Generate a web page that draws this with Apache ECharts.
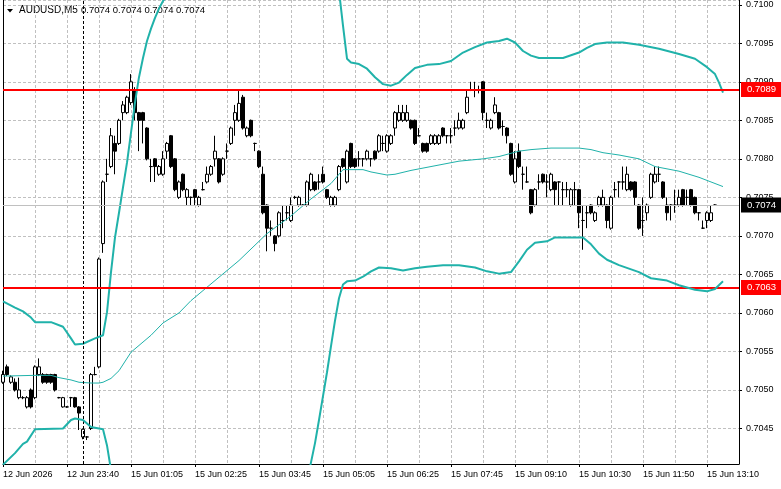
<!DOCTYPE html>
<html>
<head>
<meta charset="utf-8">
<title>AUDUSD,M5</title>
<script src="https://cdn.jsdelivr.net/npm/echarts@6/dist/echarts.min.js"></script>
<style>
  html, body { margin: 0; padding: 0; background: #fff; }
  #chart { width: 781px; height: 489px; }
</style>
</head>
<body>
<div id="chart"></div>
<script>
// tick labels, one every 16 bars
const tickLabels = ['12 Jun 2026', '12 Jun 23:40', '15 Jun 01:05', '15 Jun 02:25', '15 Jun 03:45',
  '15 Jun 05:05', '15 Jun 06:25', '15 Jun 07:45', '15 Jun 09:10', '15 Jun 10:30', '15 Jun 11:50', '15 Jun 13:10'];

// bars: [open, close, low, high]
const ohlc = [
  [0.70510, 0.70520, 0.70508, 0.70525], [0.70530, 0.70520, 0.70518, 0.70533], [0.70510, 0.70517, 0.70508, 0.70519],
  [0.70510, 0.70500, 0.70498, 0.70515], [0.70490, 0.70500, 0.70488, 0.70516], [0.70490, 0.70490, 0.70488, 0.70492],
  [0.70478, 0.70490, 0.70476, 0.70492], [0.70500, 0.70478, 0.70476, 0.70502], [0.70490, 0.70530, 0.70488, 0.70532],
  [0.70520, 0.70530, 0.70518, 0.70541], [0.70520, 0.70510, 0.70508, 0.70522], [0.70520, 0.70510, 0.70508, 0.70521],
  [0.70520, 0.70510, 0.70508, 0.70521], [0.70520, 0.70500, 0.70498, 0.70521], [0.70490, 0.70490, 0.70489, 0.70491],
  [0.70478, 0.70490, 0.70477, 0.70491], [0.70478, 0.70478, 0.70477, 0.70479], [0.70490, 0.70490, 0.70478, 0.70491],
  [0.70490, 0.70478, 0.70477, 0.70491], [0.70478, 0.70470, 0.70448, 0.70479], [0.70439, 0.70449, 0.70436, 0.70450],
  [0.70439, 0.70439, 0.70435, 0.70440], [0.70450, 0.70520, 0.70448, 0.70522], [0.70520, 0.70520, 0.70519, 0.70530],
  [0.70530, 0.70670, 0.70528, 0.70672], [0.70690, 0.70770, 0.70678, 0.70772], [0.70780, 0.70780, 0.70770, 0.70800],
  [0.70790, 0.70830, 0.70788, 0.70840], [0.70820, 0.70810, 0.70780, 0.70830], [0.70820, 0.70850, 0.70818, 0.70852],
  [0.70860, 0.70870, 0.70850, 0.70875], [0.70860, 0.70880, 0.70858, 0.70882], [0.70873, 0.70900, 0.70870, 0.70910],
  [0.70890, 0.70860, 0.70850, 0.70893], [0.70860, 0.70850, 0.70810, 0.70861], [0.70860, 0.70850, 0.70820, 0.70861],
  [0.70840, 0.70800, 0.70798, 0.70841], [0.70790, 0.70790, 0.70770, 0.70800], [0.70800, 0.70790, 0.70770, 0.70801],
  [0.70780, 0.70790, 0.70778, 0.70792], [0.70780, 0.70800, 0.70778, 0.70810], [0.70810, 0.70820, 0.70800, 0.70822],
  [0.70830, 0.70790, 0.70788, 0.70831], [0.70800, 0.70760, 0.70758, 0.70801], [0.70750, 0.70770, 0.70748, 0.70772],
  [0.70780, 0.70760, 0.70758, 0.70781], [0.70750, 0.70760, 0.70740, 0.70762], [0.70750, 0.70750, 0.70740, 0.70751],
  [0.70760, 0.70750, 0.70740, 0.70761], [0.70740, 0.70750, 0.70738, 0.70752], [0.70760, 0.70760, 0.70759, 0.70770],
  [0.70770, 0.70780, 0.70768, 0.70790], [0.70780, 0.70790, 0.70778, 0.70792], [0.70800, 0.70810, 0.70790, 0.70830],
  [0.70800, 0.70770, 0.70768, 0.70801], [0.70780, 0.70800, 0.70778, 0.70802], [0.70810, 0.70810, 0.70800, 0.70820],
  [0.70820, 0.70840, 0.70818, 0.70842], [0.70850, 0.70860, 0.70830, 0.70870], [0.70850, 0.70872, 0.70848, 0.70888],
  [0.70880, 0.70840, 0.70838, 0.70883], [0.70830, 0.70840, 0.70828, 0.70842], [0.70850, 0.70830, 0.70828, 0.70851],
  [0.70820, 0.70820, 0.70810, 0.70821], [0.70810, 0.70790, 0.70788, 0.70811], [0.70780, 0.70730, 0.70728, 0.70790],
  [0.70740, 0.70710, 0.70680, 0.70741], [0.70710, 0.70710, 0.70700, 0.70720], [0.70700, 0.70690, 0.70680, 0.70701],
  [0.70700, 0.70730, 0.70698, 0.70732], [0.70720, 0.70720, 0.70710, 0.70740], [0.70730, 0.70730, 0.70720, 0.70740],
  [0.70720, 0.70740, 0.70718, 0.70750], [0.70750, 0.70750, 0.70748, 0.70752], [0.70740, 0.70750, 0.70738, 0.70752],
  [0.70740, 0.70740, 0.70739, 0.70741], [0.70740, 0.70770, 0.70738, 0.70772], [0.70760, 0.70780, 0.70758, 0.70782],
  [0.70770, 0.70760, 0.70758, 0.70771], [0.70770, 0.70770, 0.70760, 0.70780], [0.70780, 0.70770, 0.70768, 0.70790],
  [0.70760, 0.70750, 0.70748, 0.70761], [0.70740, 0.70750, 0.70738, 0.70752], [0.70740, 0.70750, 0.70738, 0.70752],
  [0.70760, 0.70790, 0.70758, 0.70792], [0.70800, 0.70790, 0.70788, 0.70801], [0.70770, 0.70810, 0.70768, 0.70812],
  [0.70820, 0.70790, 0.70788, 0.70821], [0.70800, 0.70790, 0.70788, 0.70801], [0.70800, 0.70800, 0.70790, 0.70810],
  [0.70800, 0.70800, 0.70790, 0.70801], [0.70800, 0.70810, 0.70798, 0.70812], [0.70800, 0.70800, 0.70790, 0.70801],
  [0.70810, 0.70800, 0.70798, 0.70811], [0.70810, 0.70830, 0.70808, 0.70832], [0.70820, 0.70820, 0.70810, 0.70830],
  [0.70810, 0.70830, 0.70808, 0.70832], [0.70820, 0.70830, 0.70818, 0.70832], [0.70840, 0.70860, 0.70830, 0.70862],
  [0.70850, 0.70860, 0.70848, 0.70870], [0.70850, 0.70860, 0.70848, 0.70870], [0.70850, 0.70860, 0.70848, 0.70870],
  [0.70850, 0.70840, 0.70838, 0.70851], [0.70850, 0.70820, 0.70818, 0.70851], [0.70830, 0.70830, 0.70829, 0.70840],
  [0.70820, 0.70810, 0.70808, 0.70821], [0.70820, 0.70810, 0.70808, 0.70821], [0.70820, 0.70830, 0.70818, 0.70832],
  [0.70820, 0.70830, 0.70818, 0.70832], [0.70820, 0.70830, 0.70818, 0.70832], [0.70840, 0.70830, 0.70828, 0.70841],
  [0.70830, 0.70830, 0.70820, 0.70831], [0.70830, 0.70830, 0.70820, 0.70840], [0.70840, 0.70840, 0.70830, 0.70850],
  [0.70840, 0.70850, 0.70838, 0.70860], [0.70840, 0.70850, 0.70838, 0.70852], [0.70860, 0.70880, 0.70858, 0.70890],
  [0.70890, 0.70890, 0.70888, 0.70900], [0.70890, 0.70890, 0.70880, 0.70900], [0.70890, 0.70890, 0.70885, 0.70895],
  [0.70900, 0.70860, 0.70850, 0.70901], [0.70850, 0.70850, 0.70840, 0.70860], [0.70840, 0.70850, 0.70838, 0.70852],
  [0.70860, 0.70870, 0.70858, 0.70880], [0.70860, 0.70840, 0.70838, 0.70861], [0.70842, 0.70842, 0.70830, 0.70850],
  [0.70840, 0.70830, 0.70820, 0.70841], [0.70820, 0.70780, 0.70778, 0.70821], [0.70770, 0.70800, 0.70768, 0.70810],
  [0.70810, 0.70790, 0.70788, 0.70820], [0.70780, 0.70780, 0.70760, 0.70790], [0.70770, 0.70770, 0.70769, 0.70790],
  [0.70760, 0.70730, 0.70728, 0.70761], [0.70740, 0.70760, 0.70738, 0.70762], [0.70770, 0.70770, 0.70760, 0.70780],
  [0.70780, 0.70770, 0.70768, 0.70781], [0.70770, 0.70770, 0.70750, 0.70780], [0.70760, 0.70780, 0.70758, 0.70782],
  [0.70770, 0.70760, 0.70740, 0.70771], [0.70770, 0.70770, 0.70740, 0.70771], [0.70760, 0.70760, 0.70740, 0.70770],
  [0.70760, 0.70760, 0.70750, 0.70770], [0.70740, 0.70760, 0.70738, 0.70762], [0.70760, 0.70760, 0.70740, 0.70770],
  [0.70760, 0.70730, 0.70710, 0.70761], [0.70720, 0.70720, 0.70682, 0.70740], [0.70730, 0.70730, 0.70710, 0.70740],
  [0.70740, 0.70730, 0.70728, 0.70741], [0.70720, 0.70730, 0.70718, 0.70732], [0.70740, 0.70750, 0.70738, 0.70752],
  [0.70740, 0.70750, 0.70738, 0.70760], [0.70740, 0.70720, 0.70710, 0.70741], [0.70710, 0.70750, 0.70708, 0.70752],
  [0.70760, 0.70760, 0.70750, 0.70770], [0.70770, 0.70770, 0.70750, 0.70771], [0.70770, 0.70770, 0.70760, 0.70790],
  [0.70760, 0.70780, 0.70758, 0.70790], [0.70770, 0.70760, 0.70758, 0.70771], [0.70770, 0.70750, 0.70740, 0.70771],
  [0.70740, 0.70710, 0.70708, 0.70741], [0.70720, 0.70720, 0.70700, 0.70750], [0.70730, 0.70740, 0.70720, 0.70742],
  [0.70750, 0.70780, 0.70748, 0.70782], [0.70770, 0.70780, 0.70768, 0.70790], [0.70780, 0.70780, 0.70770, 0.70790],
  [0.70770, 0.70750, 0.70748, 0.70771], [0.70740, 0.70730, 0.70720, 0.70750], [0.70740, 0.70740, 0.70720, 0.70741],
  [0.70740, 0.70740, 0.70730, 0.70760], [0.70740, 0.70750, 0.70738, 0.70760], [0.70760, 0.70740, 0.70738, 0.70761],
  [0.70750, 0.70750, 0.70740, 0.70760], [0.70760, 0.70740, 0.70738, 0.70761], [0.70750, 0.70730, 0.70728, 0.70751],
  [0.70730, 0.70730, 0.70720, 0.70731], [0.70710, 0.70710, 0.70709, 0.70720], [0.70720, 0.70730, 0.70710, 0.70732],
  [0.70720, 0.70730, 0.70718, 0.70740], [0.70740, 0.70740, 0.70739, 0.70741]
];

// Bollinger bands: [bar index, value]
const upperBand = [[0, 0.70615], [3, 0.70607], [5, 0.70602], [7, 0.70594], [8, 0.70588], [12, 0.70588], [15, 0.70582],
  [17, 0.70567], [18, 0.70559], [20, 0.70560], [23, 0.70567], [25, 0.70571], [26, 0.70601], [27, 0.70653], [28, 0.70698],
  [29, 0.70730], [30, 0.70763], [31, 0.70795], [32, 0.70834], [33, 0.70873], [34, 0.70906], [35, 0.70931], [36, 0.70953],
  [37, 0.70969], [38, 0.70983], [39, 0.70995], [40, 0.71005], [44, 0.71030], [50, 0.71060], [60, 0.71080], [70, 0.71080],
  [78, 0.71060], [82, 0.71035], [84, 0.71018], [85, 0.70973], [86, 0.70930], [87, 0.70925], [89, 0.70923], [91, 0.70917],
  [93, 0.70906], [95, 0.70897], [97, 0.70895], [99, 0.70899], [101, 0.70909], [103, 0.70918], [106, 0.70922], [109, 0.70923],
  [112, 0.70927], [115, 0.70938], [118, 0.70945], [121, 0.70951], [124, 0.70953], [126, 0.70956], [128, 0.70951],
  [130, 0.70940], [132, 0.70934], [134, 0.70931], [140, 0.70931], [144, 0.70938], [146, 0.70944], [148, 0.70949],
  [151, 0.70951], [155, 0.70951], [159, 0.70948], [164, 0.70943], [169, 0.70936], [173, 0.70930], [176, 0.70919],
  [178, 0.70910], [179, 0.70899], [180, 0.70886]];

const middleBand = [[0, 0.70518], [8, 0.70519], [12, 0.70519], [14, 0.70516], [17, 0.70513], [19, 0.70510], [22, 0.70509],
  [24, 0.70509], [25, 0.70510], [27, 0.70515], [29, 0.70525], [32, 0.70549], [37, 0.70571], [40, 0.70587], [44, 0.70600],
  [47, 0.70616], [59, 0.70668], [66, 0.70703], [72, 0.70726], [77, 0.70748], [82, 0.70768], [85, 0.70786], [90, 0.70786],
  [92, 0.70783], [96, 0.70779], [98, 0.70780], [102, 0.70785], [106, 0.70789], [110, 0.70793], [114, 0.70797],
  [120, 0.70800], [124, 0.70803], [129, 0.70810], [132, 0.70812], [137, 0.70814], [144, 0.70814], [147, 0.70812],
  [150, 0.70808], [154, 0.70805], [159, 0.70800], [163, 0.70790], [169, 0.70784], [174, 0.70776], [180, 0.70764]];

const lowerBand = [[0, 0.70403], [3, 0.70418], [5, 0.70430], [6, 0.70433], [8, 0.70449], [15, 0.70450], [17, 0.70461],
  [18, 0.70463], [20, 0.70461], [22, 0.70452], [24, 0.70450], [25, 0.70449], [26, 0.70428], [27, 0.70396], [28, 0.70350],
  [35, 0.70280], [50, 0.70250], [65, 0.70270], [74, 0.70330], [77, 0.70406], [78, 0.70431], [79, 0.70461], [80, 0.70492],
  [81, 0.70523], [82, 0.70557], [83, 0.70590], [84, 0.70619], [85, 0.70637], [86, 0.70641], [88, 0.70642], [90, 0.70647],
  [92, 0.70654], [94, 0.70659], [97, 0.70658], [100, 0.70655], [103, 0.70658], [106, 0.70660], [110, 0.70662],
  [114, 0.70662], [118, 0.70659], [121, 0.70654], [124, 0.70651], [127, 0.70653], [129, 0.70667], [131, 0.70682],
  [133, 0.70691], [136, 0.70693], [138, 0.70698], [145, 0.70698], [147, 0.70689], [149, 0.70677], [151, 0.70669],
  [154, 0.70662], [159, 0.70653], [162, 0.70645], [166, 0.70642], [169, 0.70636], [173, 0.70630], [176, 0.70628],
  [178, 0.70631], [180, 0.70641]];

const levelLines = [0.7089, 0.70633];   // red horizontal lines
const bidPrice = 0.7074;
const daySeparator = 20;                // first bar of 15 Jun
const barSlots = 185;

const categories = Array.from({ length: barSlots }, (_, i) => i);
const FONT = 'Liberation Sans, Arial, sans-serif';
const TEAL = '#20b2aa';
const GRID = '#c0c0c0';

const priceLabel = (bg) => ({
  show: true, position: 'end', distance: 2,
  formatter: p => Number(p.value).toFixed(4),
  color: '#fff', backgroundColor: bg, padding: [3, 6, 2, 6],
  fontSize: 9.5, fontFamily: FONT
});

const chart = echarts.init(document.getElementById('chart'));

chart.setOption({
  animation: false,
  backgroundColor: '#fff',
  grid: { left: 3, right: 42, top: -1, bottom: 25 },
  graphic: [
    { type: 'polygon', shape: { points: [[7, 9], [13, 9], [10, 12.5]] }, style: { fill: '#000' } },
    { type: 'text', left: 19, top: 5, style: { text: 'AUDUSD,M5', font: '10px ' + FONT, fill: '#000' } },
    { type: 'text', left: 81, top: 5, style: { text: '0.7074 0.7074 0.7074 0.7074', font: '9.5px ' + FONT, fill: '#000' } }
  ],
  xAxis: {
    type: 'category',
    data: categories,
    boundaryGap: false,
    axisLine: { lineStyle: { color: '#000', width: 1 } },
    axisTick: { show: true, interval: 15, length: 3, lineStyle: { color: '#000' } },
    axisLabel: {
      interval: 15,
      align: 'left',
      margin: 6,
      color: '#000',
      fontSize: 9,
      fontFamily: FONT,
      formatter: (v, idx) => tickLabels[idx / 16] || ''
    },
    splitLine: { show: true, interval: 7, lineStyle: { color: GRID, type: [3, 2], width: 1 } }
  },
  yAxis: [
    {
      type: 'value',
      position: 'right',
      min: 0.704039,
      max: 0.710062,
      splitNumber: 12,
      minInterval: 0.0005,
      maxInterval: 0.0005,
      scale: true,
      axisLine: { show: true, lineStyle: { color: '#000', width: 1 } },
      axisTick: { show: true, length: 3, lineStyle: { color: '#000' } },
      axisLabel: {
        color: '#000', fontSize: 9, fontFamily: FONT, margin: 7,
        showMinLabel: false, showMaxLabel: false,
        formatter: v => v.toFixed(4)
      },
      splitLine: { show: true, lineStyle: { color: GRID, type: [3, 2], width: 1 } }
    },
    {
      type: 'value',
      position: 'left',
      min: 0.704039,
      max: 0.710062,
      axisLine: { show: true, lineStyle: { color: '#000', width: 1 } },
      axisTick: { show: false },
      axisLabel: { show: false },
      splitLine: { show: false }
    }
  ],
  series: [
    {
      name: 'AUDUSD,M5',
      type: 'candlestick',
      data: ohlc,
      barWidth: 3,
      z: 3,
      itemStyle: {
        color: '#ffffff', color0: '#000000',
        borderColor: '#000000', borderColor0: '#000000', borderColorDoji: '#000000',
        borderWidth: 1
      },
      markLine: {
        silent: true,
        symbol: ['none', 'none'],
        precision: 5,
        animation: false,
        data: [
          {
            yAxis: bidPrice,
            lineStyle: { color: GRID, type: 'solid', width: 1 },
            label: priceLabel('#000')
          },
          {
            xAxis: daySeparator,
            lineStyle: { color: '#000', type: [3, 2], width: 1 },
            label: { show: false }
          }
        ]
      }
    },
    {
      name: 'upper', type: 'line', data: upperBand, symbol: 'none', z: 4, clip: true,
      lineStyle: { color: TEAL, width: 2 }
    },
    {
      name: 'middle', type: 'line', data: middleBand, symbol: 'none', z: 4, clip: true,
      lineStyle: { color: TEAL, width: 1 }
    },
    {
      name: 'lower', type: 'line', data: lowerBand, symbol: 'none', z: 5, clip: true,
      lineStyle: { color: TEAL, width: 2 },
      markLine: {
        silent: true,
        symbol: ['none', 'none'],
        precision: 5,
        animation: false,
        lineStyle: { color: '#ff0000', type: 'solid', width: 2 },
        label: priceLabel('#ff0000'),
        data: levelLines.map(v => ({ yAxis: v }))
      }
    }
  ]
});
</script>
</body>
</html>
